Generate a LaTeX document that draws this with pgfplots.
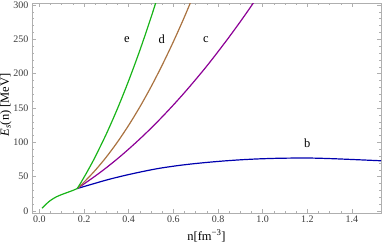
\documentclass[border=0pt]{standalone}
\usepackage{fontspec}
\setmainfont{Liberation Serif}
\usepackage{pgfplots}
\pgfplotsset{compat=1.18}
\definecolor{cb}{RGB}{0,0,175}
\definecolor{cc}{RGB}{140,0,150}
\definecolor{cd}{RGB}{170,115,65}
\definecolor{ce}{RGB}{25,180,25}
\definecolor{frame}{RGB}{175,175,175}
\definecolor{tl}{RGB}{60,60,60}
\begin{document}
\begin{tikzpicture}
\begin{axis}[
  scale only axis,
  width=349pt, height=210pt,
  xmin=-0.033, xmax=1.53,
  ymin=-3.3, ymax=302.5,
  xtick={0,0.2,...,1.4},
  ytick={0,50,...,300},
  minor x tick num=3,
  minor y tick num=4,
  tick align=inside,
  tick pos=both,
  major tick length=4pt,
  minor tick length=2pt,
  axis line style={frame, line width=0.6pt},
  every tick/.style={frame, line width=0.5pt},
  /pgf/number format/assume math mode=true,
  ticklabel style={font=\fontsize{10}{12}\selectfont, text=tl},
  xticklabel style={yshift=1pt, /pgf/number format/.cd, fixed, fixed zerofill, precision=1},
  xlabel={n[fm\textsuperscript{−3}]},
  ylabel={\textit{E}\textsubscript{\textit{s}}(n) [MeV]},
  xlabel style={font=\fontsize{12.5}{14}\selectfont, at={(axis description cs:0.5,-0.108)}, anchor=center},
  ylabel style={font=\fontsize{12.5}{14}\selectfont, at={(axis description cs:-0.075,0.516)}, anchor=center},
  every axis plot/.append style={line width=1.2pt, line join=round},
]
% common low-density branch
\addplot[ce, smooth] coordinates {
(0.012,4) (0.03,10) (0.05,15.5) (0.075,20.5) (0.1,24) (0.125,27) (0.15,30) (0.17,32.8)
};
% b
\addplot[cb, smooth] coordinates {
(0.17,32.8) (0.24,39.5) (0.31,46) (0.385,52) (0.458,57.2) (0.53,61.8) (0.607,65.6) (0.68,68.5) (0.757,71) (0.83,73) (0.906,74.7) (0.98,75.9) (1.055,76.7) (1.13,77.1) (1.204,77.2) (1.28,76.6) (1.354,75.7) (1.44,74.5) (1.53,73.2)
};
% c
\addplot[cc, smooth] coordinates {
(0.17,32.8) (0.2,39.5) (0.25,50.9) (0.3,63.1) (0.35,76.2) (0.4,90.2) (0.45,105) (0.5,120.6) (0.55,137.1) (0.6,154.4) (0.65,172.5) (0.7,191.5) (0.75,211.2) (0.8,232) (0.85,253.5) (0.9,275.8) (0.95,299) (1.0,323)
};
% d
\addplot[cd, smooth] coordinates {
(0.17,32.8) (0.2,42.1) (0.25,59.2) (0.3,78.7) (0.35,100.6) (0.4,124.9) (0.45,151.6) (0.5,180.8) (0.55,212.5) (0.6,246.5) (0.65,282.9) (0.7,321.8)
};
% e
\addplot[ce, smooth] coordinates {
(0.17,32.8) (0.19,43.6) (0.21,54.8) (0.23,66.6) (0.25,78.9) (0.3,112.3) (0.35,149.3) (0.4,189.9) (0.45,234) (0.5,281.8) (0.55,333)
};
\node[font=\fontsize{12.5}{14}\selectfont] at (axis cs:0.392,250) {e};
\node[font=\fontsize{12.5}{14}\selectfont] at (axis cs:0.548,250) {d};
\node[font=\fontsize{12.5}{14}\selectfont] at (axis cs:0.746,250) {c};
\node[font=\fontsize{12.5}{14}\selectfont] at (axis cs:1.2,98.6) {b};
\end{axis}
\pgfresetboundingbox
\path (-32pt,-34.7pt) rectangle (350pt,213.3pt);
\end{tikzpicture}
\end{document}
